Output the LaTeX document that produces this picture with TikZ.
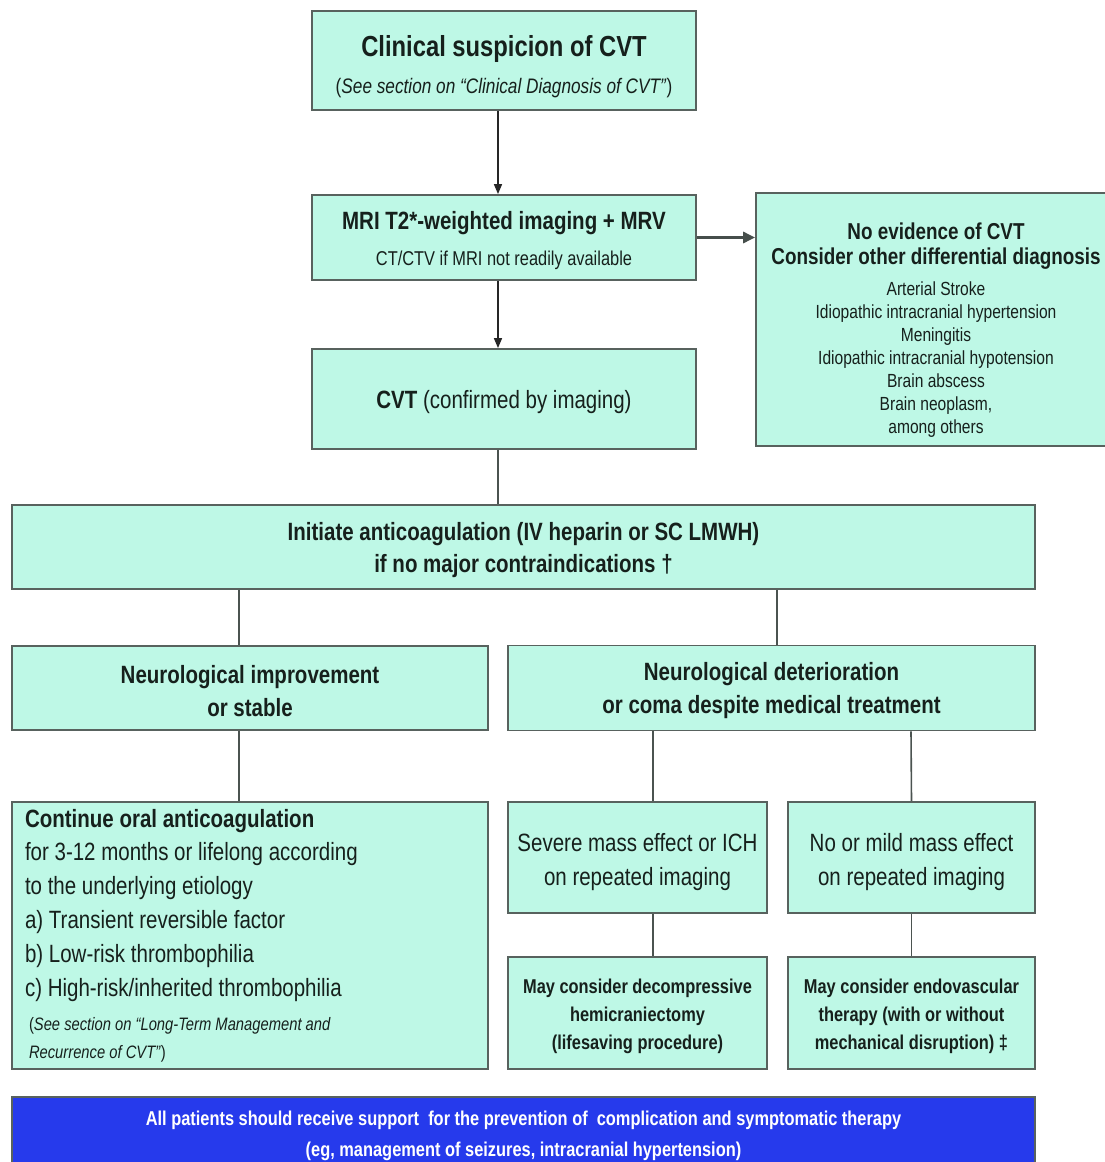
\documentclass[tikz,border=0pt]{standalone}
\usepackage{fontspec}
\setmainfont[FakeStretch=0.82]{Liberation Sans}
\usetikzlibrary{arrows.meta}
\definecolor{boxfill}{RGB}{190,248,230}
\definecolor{boxline}{RGB}{88,98,94}
\definecolor{bluebar}{RGB}{38,58,236}
\definecolor{txt}{RGB}{22,32,28}
\newcommand{\fs}[2]{\fontsize{#1}{#2}\selectfont}
\begin{document}
\begin{tikzpicture}[x=1pt,y=-1pt,
  box/.style={draw=boxline, line width=1.8pt, fill=boxfill, inner sep=0pt, align=center, text=txt},
  conn/.style={draw=boxline!85!black, line width=1.6pt},
  arr/.style={draw=black!85, line width=1.6pt, -{Triangle[length=10pt,width=8pt]}}
]
\useasboundingbox (0,0) rectangle (1104,1162);
\fill[white] (0,0) rectangle (1104,1162);

% top column
\node[box, minimum width=384pt, minimum height=99pt, font=\fs{21}{37}] (susp) at (504,60.5)
  {{\fs{29}{34}\bfseries\rule{0pt}{33pt}Clinical suspicion of CVT}\\{\fs{21}{26}(\textit{See section on “Clinical Diagnosis of CVT”})}};
\node[box, minimum width=384pt, minimum height=85pt, font=\fs{20}{36}] (mri) at (504,237.5)
  {{\fs{25}{30}\bfseries\rule{0pt}{25pt}MRI T2*-weighted imaging + MRV}\\{\fs{20}{26}CT/CTV if MRI not readily available}};
\node[box, minimum width=360pt, minimum height=253pt, font=\fs{19}{23}] (noev) at (936,319.5)
  {{\fs{23}{25}\bfseries\rule{0pt}{38pt}No evidence of CVT}\\[2pt]{\fs{23}{25}\bfseries Consider other differential diagnosis}\\[8pt]
   Arterial Stroke\\ Idiopathic intracranial hypertension\\ Meningitis\\ Idiopathic intracranial hypotension\\
   Brain abscess\\ Brain neoplasm,\\ among others};
\node[box, minimum width=384pt, minimum height=100pt, font=\fs{25}{30}] (cvt) at (504,399)
  {\rule{0pt}{24pt}\textbf{CVT} (confirmed by imaging)};

% anticoagulation
\node[box, minimum width=1023pt, minimum height=84pt, font=\fs{25}{32}] (init) at (523.5,547)
  {{\bfseries\rule{0pt}{25pt}Initiate anticoagulation (IV heparin or SC LMWH)}\\{\bfseries if no major contraindications †}};

\node[box, minimum width=476pt, minimum height=84pt, font=\fs{25}{33}] (impr) at (250,688)
  {{\bfseries\rule{0pt}{24pt}Neurological improvement}\\{\bfseries or stable}};
\node[box, minimum width=527pt, minimum height=85pt, font=\fs{25}{33}] (deter) at (771.5,688)
  {{\bfseries\rule{0pt}{24pt}Neurological deterioration}\\{\bfseries or coma despite medical treatment}};

\node[box, minimum width=476pt, minimum height=267pt, text width=450pt, align=left, font=\fs{25}{34}] (cont) at (250,935.5)
  {\spaceskip=0pt\xspaceskip=0pt
   \begin{tabular}{@{}l@{}}
   {\bfseries\rule{0pt}{26pt}Continue oral anticoagulation}\\[-1pt]
   for 3-12 months or lifelong according\\
   to the underlying etiology\\
   a) Transient reversible factor\\
   b) Low-risk thrombophilia\\
   c) High-risk/inherited thrombophilia\\[0pt]
   {\fs{18}{28}\hspace*{4pt}(\textit{See section on “Long-Term Management and}}\\[-6pt]
   {\fs{18}{28}\hspace*{4pt}\textit{Recurrence of CVT”})}
   \end{tabular}};

\node[box, minimum width=259pt, minimum height=111pt, font=\fs{25}{34}] (sev) at (637.5,857.5)
  {\rule{0pt}{28pt}Severe mass effect or ICH\\ on repeated imaging};
\node[box, minimum width=247pt, minimum height=111pt, font=\fs{25}{34}] (mild) at (911.5,857.5)
  {\rule{0pt}{28pt}No or mild mass effect\\ on repeated imaging};

\node[box, minimum width=259pt, minimum height=112pt, font=\fs{20}{28}] (decomp) at (637.5,1013)
  {{\bfseries\rule{0pt}{22pt}May consider decompressive}\\{\bfseries hemicraniectomy}\\{\bfseries (lifesaving procedure)}};
\node[box, minimum width=247pt, minimum height=112pt, font=\fs{20}{28}] (endo) at (911.5,1013)
  {{\bfseries\rule{0pt}{22pt}May consider endovascular}\\{\bfseries therapy (with or without}\\{\bfseries mechanical disruption) ‡}};

\node[draw=boxline, line width=1.2pt, fill=bluebar, text=white, inner sep=0pt, align=center,
      minimum width=1023pt, minimum height=78pt, font=\fs{20}{31}] (all) at (523.5,1136)
  {{\bfseries All patients should receive support \ for the prevention of \ complication and symptomatic therapy}\\
   {\bfseries (eg, management of seizures, intracranial hypertension)}};

% connectors
\draw[arr] ([xshift=-6pt]susp.south) -- ([xshift=-6pt]mri.north);
\draw[arr] ([xshift=-6pt]mri.south) -- ([xshift=-6pt]cvt.north);
\draw[arr, line width=3pt, draw=boxline!80!black, -{Triangle[length=12pt,width=11pt]}] (mri.east) -- (mri.east -| noev.west);
\draw[conn] ([xshift=-6pt]cvt.south) -- ([xshift=-25.5pt]init.north);
\draw[conn] ([xshift=-284.5pt]init.south) -- ([xshift=-11pt]impr.north);
\draw[conn] ([xshift=253.5pt]init.south) -- ([xshift=5.5pt]deter.north);
\draw[conn] ([xshift=-11pt]impr.south) -- ([xshift=-11pt]cont.north);
\draw[conn] ([xshift=-118.5pt]deter.south) -- ([xshift=15.5pt]sev.north);
\draw[conn] ([xshift=139.5pt]deter.south) -- (mild.north);
\draw[conn] ([xshift=15.5pt]sev.south) -- ([xshift=15.5pt]decomp.north);
\draw[conn] (mild.south) -- (endo.north);
\end{tikzpicture}
\end{document}
